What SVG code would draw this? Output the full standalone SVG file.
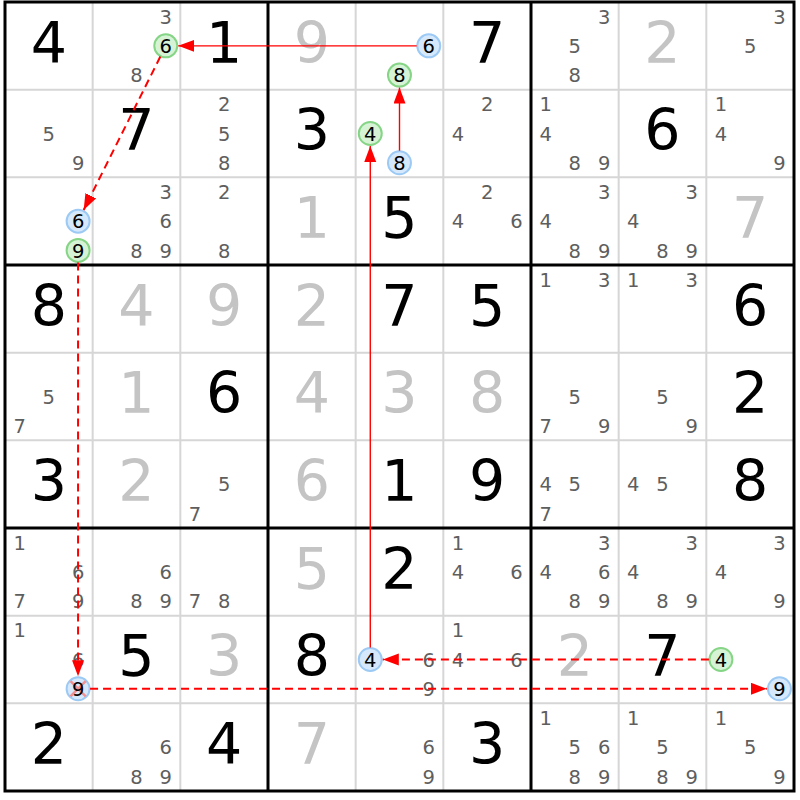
<svg xmlns="http://www.w3.org/2000/svg" width="800" height="800" viewBox="0 0 800 800">
<defs>
<style>
.b{font-family:"DejaVu Sans","Liberation Sans",sans-serif;font-size:57px;text-anchor:middle;fill:#000}
.s{font-family:"DejaVu Sans","Liberation Sans",sans-serif;font-size:57px;text-anchor:middle;fill:#c4c4c4}
.p{font-family:"DejaVu Sans","Liberation Sans",sans-serif;font-size:19.5px;text-anchor:middle;fill:#5e5e5e}
.k{font-family:"DejaVu Sans","Liberation Sans",sans-serif;font-size:19.5px;text-anchor:middle;fill:#000}
.cg{fill:#d6f3d6;stroke:#86d586;stroke-width:2}
.cb{fill:#d6e9fc;stroke:#9ccaf5;stroke-width:2}
.x{stroke:#f29090;stroke-width:2.5}
.thin{stroke:#d6d6d6;stroke-width:2}
.thick{stroke:#000;stroke-width:3;fill:none}
.solid{stroke:#f00;stroke-width:1.4;fill:none}
.dash{stroke:#f00;stroke-width:2;stroke-dasharray:8 5;fill:none}
</style>
<marker id="ah" markerUnits="userSpaceOnUse" markerWidth="17" markerHeight="13" refX="16" refY="6" orient="auto" viewBox="0 0 17 13"><path d="M0,0 L16,6 L0,12 z" fill="#f00"/></marker>
</defs>
<rect x="0" y="0" width="800" height="800" fill="#fff"/>
<g id="grid">
<g class="thin">
<line x1="92.67" y1="2" x2="92.67" y2="791"/><line x1="180.33" y1="2" x2="180.33" y2="791"/>
<line x1="355.67" y1="2" x2="355.67" y2="791"/><line x1="443.33" y1="2" x2="443.33" y2="791"/>
<line x1="618.67" y1="2" x2="618.67" y2="791"/><line x1="706.33" y1="2" x2="706.33" y2="791"/>
<line x1="5" y1="89.67" x2="794" y2="89.67"/><line x1="5" y1="177.33" x2="794" y2="177.33"/>
<line x1="5" y1="352.67" x2="794" y2="352.67"/><line x1="5" y1="440.33" x2="794" y2="440.33"/>
<line x1="5" y1="615.67" x2="794" y2="615.67"/><line x1="5" y1="703.33" x2="794" y2="703.33"/>
</g>
<g class="thick">
<line x1="268" y1="2" x2="268" y2="791"/><line x1="531" y1="2" x2="531" y2="791"/>
<line x1="5" y1="265" x2="794" y2="265"/><line x1="5" y1="528" x2="794" y2="528"/>
<rect x="5" y="2" width="789" height="789"/>
</g>
</g>

<g id="r0c0" transform="translate(5,2)"><text class="b" x="43.8" y="60.5">4</text></g>
<g id="r0c1" transform="translate(92.67,2)"><text class="p" x="73.1" y="21.7">3</text><circle class="cg" cx="73.1" cy="43.8" r="11.5"/><text class="k" x="73.1" y="50.9">6</text><text class="p" x="43.8" y="80.2">8</text></g>
<g id="r0c2" transform="translate(180.33,2)"><text class="b" x="43.8" y="60.5">1</text></g>
<g id="r0c3" transform="translate(268,2)"><text class="s" x="43.8" y="60.5">9</text></g>
<g id="r0c4" transform="translate(355.67,2)"><circle class="cb" cx="73.1" cy="43.8" r="11.5"/><text class="k" x="73.1" y="50.9">6</text><circle class="cg" cx="43.8" cy="73.1" r="11.5"/><text class="k" x="43.8" y="80.2">8</text></g>
<g id="r0c5" transform="translate(443.33,2)"><text class="b" x="43.8" y="60.5">7</text></g>
<g id="r0c6" transform="translate(531,2)"><text class="p" x="73.1" y="21.7">3</text><text class="p" x="43.8" y="50.9">5</text><text class="p" x="43.8" y="80.2">8</text></g>
<g id="r0c7" transform="translate(618.67,2)"><text class="s" x="43.8" y="60.5">2</text></g>
<g id="r0c8" transform="translate(706.33,2)"><text class="p" x="73.1" y="21.7">3</text><text class="p" x="43.8" y="50.9">5</text></g>

<g id="r1c0" transform="translate(5,89.67)"><text class="p" x="43.8" y="50.9">5</text><text class="p" x="73.1" y="80.2">9</text></g>
<g id="r1c1" transform="translate(92.67,89.67)"><text class="b" x="43.8" y="60.5">7</text></g>
<g id="r1c2" transform="translate(180.33,89.67)"><text class="p" x="43.8" y="21.7">2</text><text class="p" x="43.8" y="50.9">5</text><text class="p" x="43.8" y="80.2">8</text></g>
<g id="r1c3" transform="translate(268,89.67)"><text class="b" x="43.8" y="60.5">3</text></g>
<g id="r1c4" transform="translate(355.67,89.67)"><circle class="cg" cx="14.6" cy="43.8" r="11.5"/><text class="k" x="14.6" y="50.9">4</text><circle class="cb" cx="43.8" cy="73.1" r="11.5"/><text class="k" x="43.8" y="80.2">8</text></g>
<g id="r1c5" transform="translate(443.33,89.67)"><text class="p" x="43.8" y="21.7">2</text><text class="p" x="14.6" y="50.9">4</text></g>
<g id="r1c6" transform="translate(531,89.67)"><text class="p" x="14.6" y="21.7">1</text><text class="p" x="14.6" y="50.9">4</text><text class="p" x="43.8" y="80.2">8</text><text class="p" x="73.1" y="80.2">9</text></g>
<g id="r1c7" transform="translate(618.67,89.67)"><text class="b" x="43.8" y="60.5">6</text></g>
<g id="r1c8" transform="translate(706.33,89.67)"><text class="p" x="14.6" y="21.7">1</text><text class="p" x="14.6" y="50.9">4</text><text class="p" x="73.1" y="80.2">9</text></g>

<g id="r2c0" transform="translate(5,177.33)"><circle class="cb" cx="73.1" cy="43.8" r="11.5"/><text class="k" x="73.1" y="50.9">6</text><circle class="cg" cx="73.1" cy="73.1" r="11.5"/><text class="k" x="73.1" y="80.2">9</text></g>
<g id="r2c1" transform="translate(92.67,177.33)"><text class="p" x="73.1" y="21.7">3</text><text class="p" x="73.1" y="50.9">6</text><text class="p" x="43.8" y="80.2">8</text><text class="p" x="73.1" y="80.2">9</text></g>
<g id="r2c2" transform="translate(180.33,177.33)"><text class="p" x="43.8" y="21.7">2</text><text class="p" x="43.8" y="80.2">8</text></g>
<g id="r2c3" transform="translate(268,177.33)"><text class="s" x="43.8" y="60.5">1</text></g>
<g id="r2c4" transform="translate(355.67,177.33)"><text class="b" x="43.8" y="60.5">5</text></g>
<g id="r2c5" transform="translate(443.33,177.33)"><text class="p" x="43.8" y="21.7">2</text><text class="p" x="14.6" y="50.9">4</text><text class="p" x="73.1" y="50.9">6</text></g>
<g id="r2c6" transform="translate(531,177.33)"><text class="p" x="73.1" y="21.7">3</text><text class="p" x="14.6" y="50.9">4</text><text class="p" x="43.8" y="80.2">8</text><text class="p" x="73.1" y="80.2">9</text></g>
<g id="r2c7" transform="translate(618.67,177.33)"><text class="p" x="73.1" y="21.7">3</text><text class="p" x="14.6" y="50.9">4</text><text class="p" x="43.8" y="80.2">8</text><text class="p" x="73.1" y="80.2">9</text></g>
<g id="r2c8" transform="translate(706.33,177.33)"><text class="s" x="43.8" y="60.5">7</text></g>

<g id="r3c0" transform="translate(5,265)"><text class="b" x="43.8" y="60.5">8</text></g>
<g id="r3c1" transform="translate(92.67,265)"><text class="s" x="43.8" y="60.5">4</text></g>
<g id="r3c2" transform="translate(180.33,265)"><text class="s" x="43.8" y="60.5">9</text></g>
<g id="r3c3" transform="translate(268,265)"><text class="s" x="43.8" y="60.5">2</text></g>
<g id="r3c4" transform="translate(355.67,265)"><text class="b" x="43.8" y="60.5">7</text></g>
<g id="r3c5" transform="translate(443.33,265)"><text class="b" x="43.8" y="60.5">5</text></g>
<g id="r3c6" transform="translate(531,265)"><text class="p" x="14.6" y="21.7">1</text><text class="p" x="73.1" y="21.7">3</text></g>
<g id="r3c7" transform="translate(618.67,265)"><text class="p" x="14.6" y="21.7">1</text><text class="p" x="73.1" y="21.7">3</text></g>
<g id="r3c8" transform="translate(706.33,265)"><text class="b" x="43.8" y="60.5">6</text></g>

<g id="r4c0" transform="translate(5,352.67)"><text class="p" x="43.8" y="50.9">5</text><text class="p" x="14.6" y="80.2">7</text></g>
<g id="r4c1" transform="translate(92.67,352.67)"><text class="s" x="43.8" y="60.5">1</text></g>
<g id="r4c2" transform="translate(180.33,352.67)"><text class="b" x="43.8" y="60.5">6</text></g>
<g id="r4c3" transform="translate(268,352.67)"><text class="s" x="43.8" y="60.5">4</text></g>
<g id="r4c4" transform="translate(355.67,352.67)"><text class="s" x="43.8" y="60.5">3</text></g>
<g id="r4c5" transform="translate(443.33,352.67)"><text class="s" x="43.8" y="60.5">8</text></g>
<g id="r4c6" transform="translate(531,352.67)"><text class="p" x="43.8" y="50.9">5</text><text class="p" x="14.6" y="80.2">7</text><text class="p" x="73.1" y="80.2">9</text></g>
<g id="r4c7" transform="translate(618.67,352.67)"><text class="p" x="43.8" y="50.9">5</text><text class="p" x="73.1" y="80.2">9</text></g>
<g id="r4c8" transform="translate(706.33,352.67)"><text class="b" x="43.8" y="60.5">2</text></g>

<g id="r5c0" transform="translate(5,440.33)"><text class="b" x="43.8" y="60.5">3</text></g>
<g id="r5c1" transform="translate(92.67,440.33)"><text class="s" x="43.8" y="60.5">2</text></g>
<g id="r5c2" transform="translate(180.33,440.33)"><text class="p" x="43.8" y="50.9">5</text><text class="p" x="14.6" y="80.2">7</text></g>
<g id="r5c3" transform="translate(268,440.33)"><text class="s" x="43.8" y="60.5">6</text></g>
<g id="r5c4" transform="translate(355.67,440.33)"><text class="b" x="43.8" y="60.5">1</text></g>
<g id="r5c5" transform="translate(443.33,440.33)"><text class="b" x="43.8" y="60.5">9</text></g>
<g id="r5c6" transform="translate(531,440.33)"><text class="p" x="14.6" y="50.9">4</text><text class="p" x="43.8" y="50.9">5</text><text class="p" x="14.6" y="80.2">7</text></g>
<g id="r5c7" transform="translate(618.67,440.33)"><text class="p" x="14.6" y="50.9">4</text><text class="p" x="43.8" y="50.9">5</text></g>
<g id="r5c8" transform="translate(706.33,440.33)"><text class="b" x="43.8" y="60.5">8</text></g>

<g id="r6c0" transform="translate(5,528)"><text class="p" x="14.6" y="21.7">1</text><text class="p" x="73.1" y="50.9">6</text><text class="p" x="14.6" y="80.2">7</text><text class="p" x="73.1" y="80.2">9</text></g>
<g id="r6c1" transform="translate(92.67,528)"><text class="p" x="73.1" y="50.9">6</text><text class="p" x="43.8" y="80.2">8</text><text class="p" x="73.1" y="80.2">9</text></g>
<g id="r6c2" transform="translate(180.33,528)"><text class="p" x="14.6" y="80.2">7</text><text class="p" x="43.8" y="80.2">8</text></g>
<g id="r6c3" transform="translate(268,528)"><text class="s" x="43.8" y="60.5">5</text></g>
<g id="r6c4" transform="translate(355.67,528)"><text class="b" x="43.8" y="60.5">2</text></g>
<g id="r6c5" transform="translate(443.33,528)"><text class="p" x="14.6" y="21.7">1</text><text class="p" x="14.6" y="50.9">4</text><text class="p" x="73.1" y="50.9">6</text></g>
<g id="r6c6" transform="translate(531,528)"><text class="p" x="73.1" y="21.7">3</text><text class="p" x="14.6" y="50.9">4</text><text class="p" x="73.1" y="50.9">6</text><text class="p" x="43.8" y="80.2">8</text><text class="p" x="73.1" y="80.2">9</text></g>
<g id="r6c7" transform="translate(618.67,528)"><text class="p" x="73.1" y="21.7">3</text><text class="p" x="14.6" y="50.9">4</text><text class="p" x="43.8" y="80.2">8</text><text class="p" x="73.1" y="80.2">9</text></g>
<g id="r6c8" transform="translate(706.33,528)"><text class="p" x="73.1" y="21.7">3</text><text class="p" x="14.6" y="50.9">4</text><text class="p" x="73.1" y="80.2">9</text></g>

<g id="r7c0" transform="translate(5,615.67)"><text class="p" x="14.6" y="21.7">1</text><text class="p" x="73.1" y="50.9">6</text><circle class="cb" cx="73.1" cy="73.1" r="11.5"/><line class="x" x1="65.5" y1="65.5" x2="80.7" y2="80.7"/><line class="x" x1="65.5" y1="80.7" x2="80.7" y2="65.5"/><text class="k" x="73.1" y="80.2">9</text></g>
<g id="r7c1" transform="translate(92.67,615.67)"><text class="b" x="43.8" y="60.5">5</text></g>
<g id="r7c2" transform="translate(180.33,615.67)"><text class="s" x="43.8" y="60.5">3</text></g>
<g id="r7c3" transform="translate(268,615.67)"><text class="b" x="43.8" y="60.5">8</text></g>
<g id="r7c4" transform="translate(355.67,615.67)"><circle class="cb" cx="14.6" cy="43.8" r="11.5"/><text class="k" x="14.6" y="50.9">4</text><text class="p" x="73.1" y="50.9">6</text><text class="p" x="73.1" y="80.2">9</text></g>
<g id="r7c5" transform="translate(443.33,615.67)"><text class="p" x="14.6" y="21.7">1</text><text class="p" x="14.6" y="50.9">4</text><text class="p" x="73.1" y="50.9">6</text></g>
<g id="r7c6" transform="translate(531,615.67)"><text class="s" x="43.8" y="60.5">2</text></g>
<g id="r7c7" transform="translate(618.67,615.67)"><text class="b" x="43.8" y="60.5">7</text></g>
<g id="r7c8" transform="translate(706.33,615.67)"><circle class="cg" cx="14.6" cy="43.8" r="11.5"/><text class="k" x="14.6" y="50.9">4</text><circle class="cb" cx="73.1" cy="73.1" r="11.5"/><text class="k" x="73.1" y="80.2">9</text></g>

<g id="r8c0" transform="translate(5,703.33)"><text class="b" x="43.8" y="60.5">2</text></g>
<g id="r8c1" transform="translate(92.67,703.33)"><text class="p" x="73.1" y="50.9">6</text><text class="p" x="43.8" y="80.2">8</text><text class="p" x="73.1" y="80.2">9</text></g>
<g id="r8c2" transform="translate(180.33,703.33)"><text class="b" x="43.8" y="60.5">4</text></g>
<g id="r8c3" transform="translate(268,703.33)"><text class="s" x="43.8" y="60.5">7</text></g>
<g id="r8c4" transform="translate(355.67,703.33)"><text class="p" x="73.1" y="50.9">6</text><text class="p" x="73.1" y="80.2">9</text></g>
<g id="r8c5" transform="translate(443.33,703.33)"><text class="b" x="43.8" y="60.5">3</text></g>
<g id="r8c6" transform="translate(531,703.33)"><text class="p" x="14.6" y="21.7">1</text><text class="p" x="43.8" y="50.9">5</text><text class="p" x="73.1" y="50.9">6</text><text class="p" x="43.8" y="80.2">8</text><text class="p" x="73.1" y="80.2">9</text></g>
<g id="r8c7" transform="translate(618.67,703.33)"><text class="p" x="14.6" y="21.7">1</text><text class="p" x="43.8" y="50.9">5</text><text class="p" x="43.8" y="80.2">8</text><text class="p" x="73.1" y="80.2">9</text></g>
<g id="r8c8" transform="translate(706.33,703.33)"><text class="p" x="14.6" y="21.7">1</text><text class="p" x="43.8" y="50.9">5</text><text class="p" x="73.1" y="80.2">9</text></g>

<g id="connectors">
<line class="solid" x1="416.7" y1="45.83" x2="178.2" y2="45.83" marker-end="url(#ah)"/>
<line class="dash" x1="160.36" y1="56.56" x2="83.65" y2="209.98" marker-end="url(#ah)"/>
<line class="dash" x1="78.06" y1="262.4" x2="78.06" y2="676.2" marker-end="url(#ah)"/>
<line class="dash" x1="90.06" y1="688.73" x2="766.9" y2="688.73" marker-end="url(#ah)"/>
<line class="dash" x1="708.9" y1="659.5" x2="382.8" y2="659.5" marker-end="url(#ah)"/>
<line class="solid" x1="370.28" y1="647.5" x2="370.28" y2="146" marker-end="url(#ah)"/>
<line class="solid" x1="399.5" y1="150.7" x2="399.5" y2="87.6" marker-end="url(#ah)"/>
</g>
</svg>
